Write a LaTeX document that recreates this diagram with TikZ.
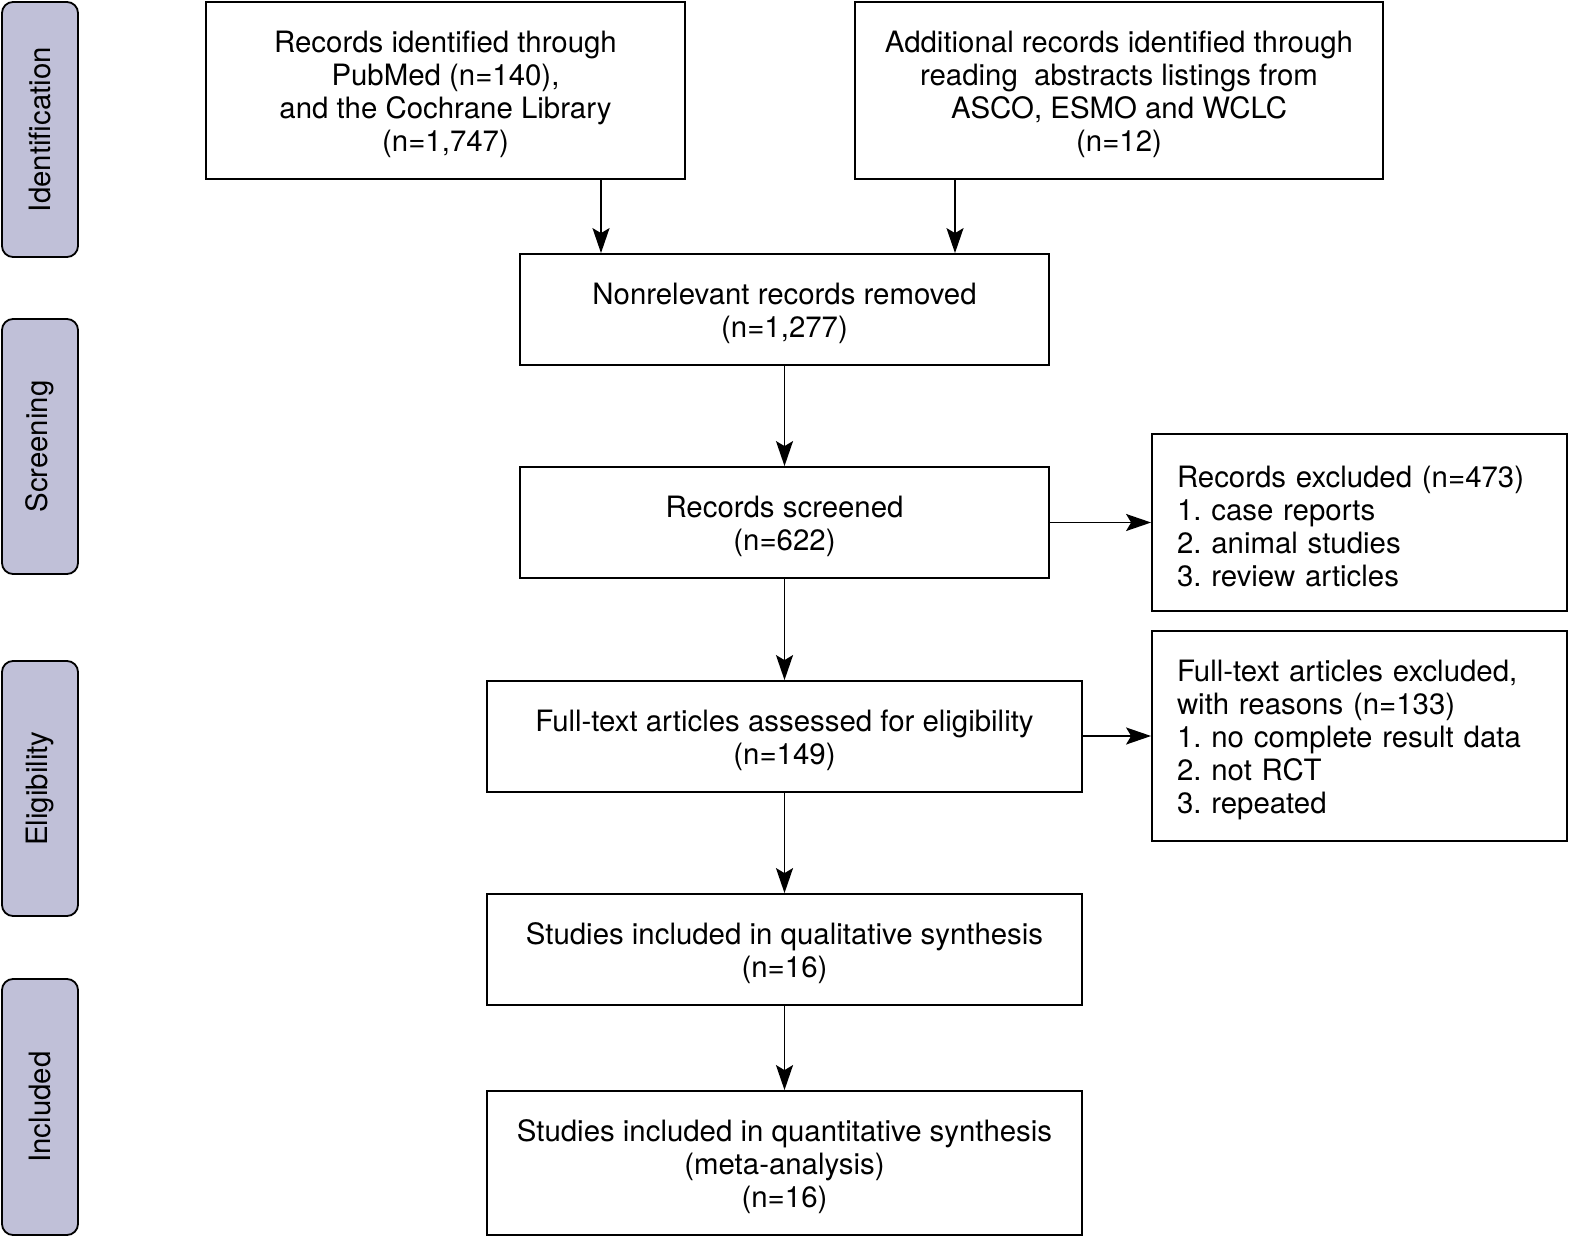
\documentclass[tikz,border=0pt]{standalone}
\usepackage{fontspec}
\setmainfont{TeX Gyre Heros}
\usetikzlibrary{arrows.meta}
\definecolor{lav}{RGB}{192,192,216}
\frenchspacing
\begin{document}
\begin{tikzpicture}[x=1pt,y=-1pt,
  box/.style={draw,line width=1.8pt,inner sep=0pt},
  txt/.style={inner sep=0pt,align=center,font=\fontsize{29.4}{33}\selectfont},
  lbox/.style={draw,line width=1.8pt,inner ysep=0pt,inner xsep=25pt,text width=365pt,align=left,font=\fontsize{29.4}{33}\selectfont,execute at begin node={\rule{0pt}{29pt}}},
  side/.style={draw,line width=1.8pt,fill=lav,rounded corners=11pt,rotate=90,minimum width=255pt,minimum height=76pt,inner sep=0pt,font=\fontsize{29.4}{33}\selectfont},
  arr/.style={line width=1.8pt,-{Stealth[length=25pt,width=17pt,inset=5pt]}}]
\useasboundingbox (0,0) rectangle (1577,1244);
% side labels
\node[side] (s1) at (40,129.5) {Identification};
\node[side] (s2) at (40,446.5) {Screening};
\node[side] (s3) at (40,788.5) {Eligibility};
\node[side,minimum width=256pt] (s4) at (40,1107) {Included};
% boxes
\node[box,minimum width=479pt,minimum height=177pt] (A) at (445.5,90.5) {};
\node[txt] (At) at ([yshift=-4pt]A.center) {Records identified through\\PubMed (n=140),\\and the Cochrane Library\\(n=1,747)};
\node[box,minimum width=528pt,minimum height=177pt] (B) at (1119,90.5) {};
\node[txt] (Bt) at ([yshift=-4pt]B.center) {Additional records identified through\\reading\ \ abstracts listings from\\ASCO, ESMO and WCLC\\(n=12)};
\node[box,minimum width=529pt,minimum height=111pt] (C) at (784.5,309.5) {};
\node[txt] (Ct) at ([yshift=-4pt]C.center) {Nonrelevant records removed\\(n=1,277)};
\node[box,minimum width=529pt,minimum height=111pt] (D) at (784.5,522.5) {};
\node[txt] (Dt) at ([yshift=-4pt]D.center) {Records screened\\(n=622)};
\node[lbox,minimum height=177pt] (E) at (1359.5,522.5) {Records excluded (n=473)\\1. case reports\\2. animal studies\\3. review articles};
\node[box,minimum width=595pt,minimum height=111pt] (F) at (784.5,736.5) {};
\node[txt] (Ft) at ([yshift=-4pt]F.center) {Full-text articles assessed for eligibility\\(n=149)};
\node[lbox,minimum height=210pt] (G) at (1359.5,736) {Full-text articles excluded,\\with reasons (n=133)\\1. no complete result data\\2. not RCT\\3. repeated};
\node[box,minimum width=595pt,minimum height=111pt] (H) at (784.5,949.5) {};
\node[txt] (Ht) at ([yshift=-4pt]H.center) {Studies included in qualitative synthesis\\(n=16)};
\node[box,minimum width=595pt,minimum height=144pt] (I) at (784.5,1163) {};
\node[txt] (It) at ([yshift=-4pt]I.center) {Studies included in quantitative synthesis\\(meta-analysis)\\(n=16)};
% connectors
\coordinate (xa) at (601,0);
\coordinate (xb) at (955,0);
\draw[arr] (A.south -| xa) -- (C.north -| xa);
\draw[arr] (B.south -| xb) -- (C.north -| xb);
\draw[arr] (C) -- (D);
\draw[arr] (D) -- (E);
\draw[arr] (D) -- (F);
\draw[arr] (F.east |- G) -- (G.west);
\draw[arr] (F) -- (H);
\draw[arr] (H) -- (I);
\end{tikzpicture}
\end{document}
